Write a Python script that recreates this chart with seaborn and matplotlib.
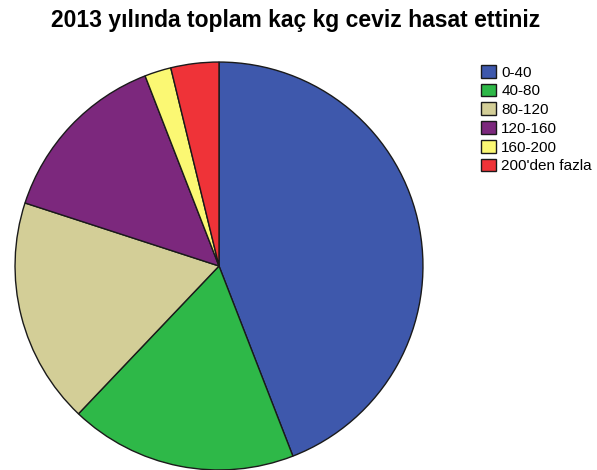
import matplotlib
matplotlib.use("Agg")
import matplotlib.pyplot as plt
import seaborn as sns

# Values (percent of respondents)
categories = ["0-40", "40-80", "80-120", "120-160", "160-200", "200'den fazla"]
shares = [44.1, 18.0, 17.9, 14.1, 2.1, 3.8]
colors = ["#3E58AC", "#2EB848", "#D3CE97", "#7C287D", "#FBF873", "#EF3338"]
title = "2013 yılında toplam kaç kg ceviz hasat ettiniz"

sns.set_theme(style="white")
plt.rcParams["font.family"] = ["Liberation Sans", "DejaVu Sans"]
plt.rcParams["text.color"] = "black"

W, H = 597, 470
fig = plt.figure(figsize=(W / 100, H / 100), dpi=100)

cx, cy, r = 219, 266, 206
ax = fig.add_axes([(cx - r) / W, (H - cy - r) / H, 2 * r / W, 2 * r / H])
wedges, _ = ax.pie(shares, colors=colors, startangle=90, counterclock=False,
                   radius=1, wedgeprops=dict(edgecolor="#1a1a1a", linewidth=1.0))
ax.set_xlim(-1.01, 1.01)
ax.set_ylim(-1.01, 1.01)
ax.set_aspect("equal")
ax.axis("off")

fig.text(296 / W, 1 - 20 / H, title, ha="center", va="center",
         fontsize=16.5, fontweight="bold", color="black")

fig.legend(wedges, categories, loc="upper left",
           bbox_to_anchor=(481 / W, 1 - 65 / H), frameon=False,
           fontsize=11, handlelength=1.0, handleheight=0.9,
           handletextpad=0.33, labelspacing=0.27, borderpad=0, borderaxespad=0)

fig.savefig("out.png", dpi=100)
